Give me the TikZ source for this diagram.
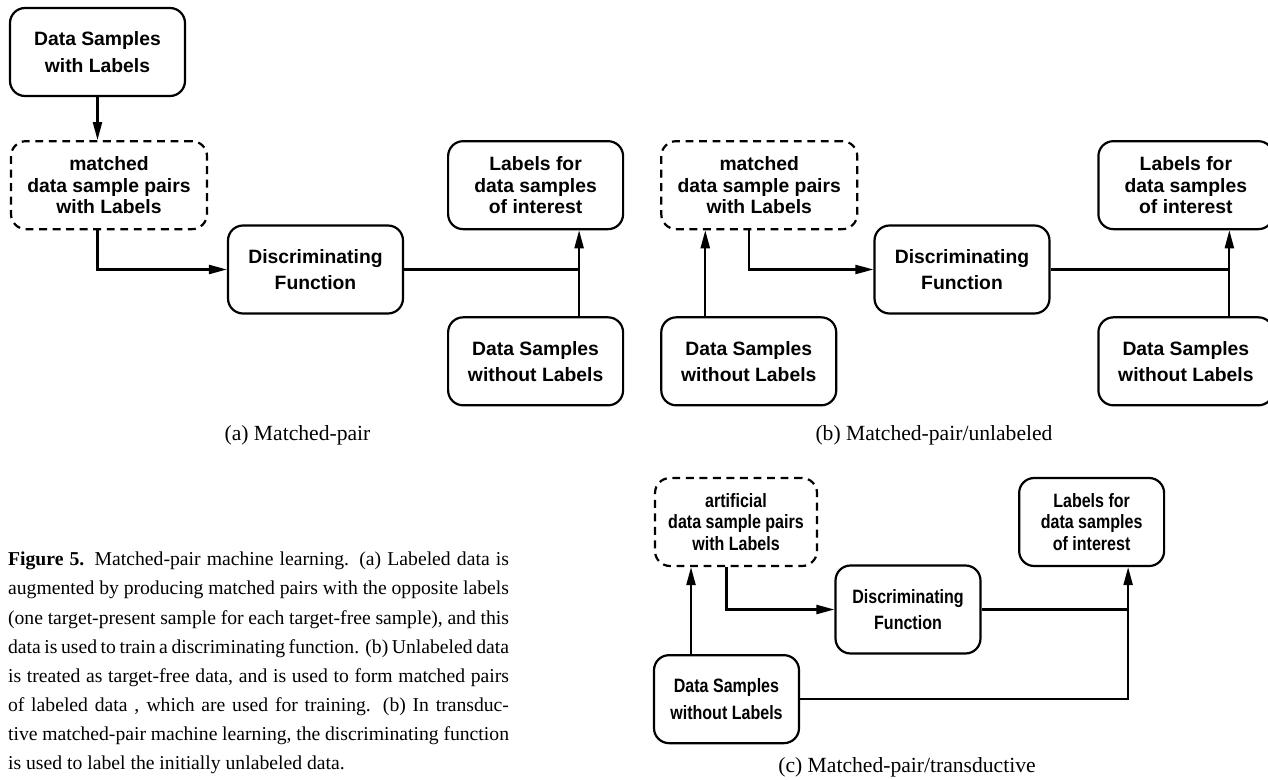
\documentclass[tikz,border=0pt]{standalone}
\usepackage{fontspec}
\setmainfont{Liberation Serif}
\newfontfamily\boxfont{Liberation Sans}
\newfontfamily\narrowfont[FakeStretch=0.83]{Liberation Sans}
\usetikzlibrary{arrows.meta,positioning}

\begin{document}
\begin{tikzpicture}[x=0.02cm, y=-0.02cm, line width=1.25pt,
    box/.style={draw, rounded corners=0.3cm, align=center, inner sep=0pt, minimum width=3.5cm, minimum height=1.76cm, font=\boxfont\bfseries\fontsize{11}{15}\selectfont},
    tightbox/.style={box, font=\boxfont\bfseries\fontsize{11}{12.1}\selectfont},
    dashbox/.style={tightbox, dash pattern=on 4.5pt off 3.2pt, minimum width=3.92cm},
    narrowbox/.style={box, minimum width=2.9cm, font=\narrowfont\bfseries\fontsize{11}{15}\selectfont},
    narrowtight/.style={narrowbox, font=\narrowfont\bfseries\fontsize{11}{12.1}\selectfont},
    narrowdash/.style={narrowtight, dash pattern=on 4.5pt off 3.2pt, minimum width=3.24cm},
    subcap/.style={anchor=base, inner sep=0pt, font=\fontsize{12.3}{14}\selectfont},
    arrow/.style={-{Triangle[length=3.6mm, width=1.8mm]}}
  ]
  \useasboundingbox (0,0) rectangle (1268,780);

  % (a) matched-pair
  \node[box] (dsla) at (97.5,52) {Data Samples\\with Labels};
  \node[dashbox, below=0.86cm of dsla, xshift=0.23cm] (mata) {matched\\data sample pairs\\with Labels};
  \node[tightbox, right=4.78cm of mata] (laba) {Labels for\\data samples\\of interest};
  \node[box, below=1.72cm of laba] (dswa) {Data Samples\\without Labels};
  \node[box] (dfa) at (315.5,269.5) {Discriminating\\Function};
  \coordinate (joina) at ([xshift=0.87cm]dswa.north);
  \draw[arrow] (dsla) -- (dsla |- mata.north);
  \draw[arrow] (mata.south -| dsla) |- (dfa);
  \draw[arrow] (joina) -- (joina |- laba.south);
  \draw (dfa) -- (dfa -| joina);
  \node[subcap] (capa) at (297.5,440) {(a) Matched-pair};

  % (b) matched-pair/unlabeled
  \node[dashbox, right=0.72cm of laba] (matb) {matched\\data sample pairs\\with Labels};
  \node[box, below=1.72cm of matb, xshift=-0.21cm] (dswb) {Data Samples\\without Labels};
  \node[tightbox, right=4.78cm of matb] (labb) {Labels for\\data samples\\of interest};
  \node[box, below=1.72cm of labb] (dswr) {Data Samples\\without Labels};
  \node[box] (dfb) at (962,269.5) {Discriminating\\Function};
  \coordinate (inb) at ([xshift=-0.87cm]dswb.north);
  \coordinate (joinb) at ([xshift=0.87cm]dswr.north);
  \draw[arrow] (inb) -- (inb |- matb.south);
  \draw[arrow] (matb.south -| dswb) |- (dfb);
  \draw[arrow] (joinb) -- (joinb |- labb.south);
  \draw (dfb) -- (dfb -| joinb);
  \node[subcap] (capb) at (934,440) {(b) Matched-pair/unlabeled};

  % (c) matched-pair/transductive
  \node[narrowdash] (matc) at (736,522) {artificial\\data sample pairs\\with Labels};
  \node[narrowbox, below=1.74cm of matc, xshift=-0.19cm] (dswc) {Data Samples\\without Labels};
  \node[narrowtight, right=4cm of matc] (labc) {Labels for\\data samples\\of interest};
  \node[narrowbox] (dfc) at (908,609.5) {Discriminating\\Function};
  \coordinate (inc) at ([xshift=-0.71cm]dswc.north);
  \coordinate (joinc) at ([xshift=0.73cm]labc.south);
  \draw[arrow] (inc) -- (inc |- matc.south);
  \draw[arrow] (matc.south -| dswc) |- (dfc);
  \draw[arrow] (dswc) -| (joinc);
  \draw (dfc) -- (dfc -| joinc);
  \node[subcap] (capc) at (907,772) {(c) Matched-pair/transductive};

  % figure caption
  \node[anchor=north west, inner sep=0pt, text width=10.02cm, align=justify, font=\fontsize{11.2}{16.6}\selectfont] (figcap) at (7,551)
    {\textbf{Figure 5.} Matched-pair machine learning.  (a) Labeled data is\linebreak
     augmented by producing matched pairs with the opposite labels\linebreak
     (one target-present sample for each target-free sample), and this\linebreak
     data is used to train a discriminating function. (b) Unlabeled data\linebreak
     is treated as target-free data, and is used to form matched pairs\linebreak
     of labeled data , which are used for training.  (b) In transduc-\linebreak
     tive matched-pair machine learning, the discriminating function\linebreak
     is used to label the initially unlabeled data.};
\end{tikzpicture}
\end{document}
